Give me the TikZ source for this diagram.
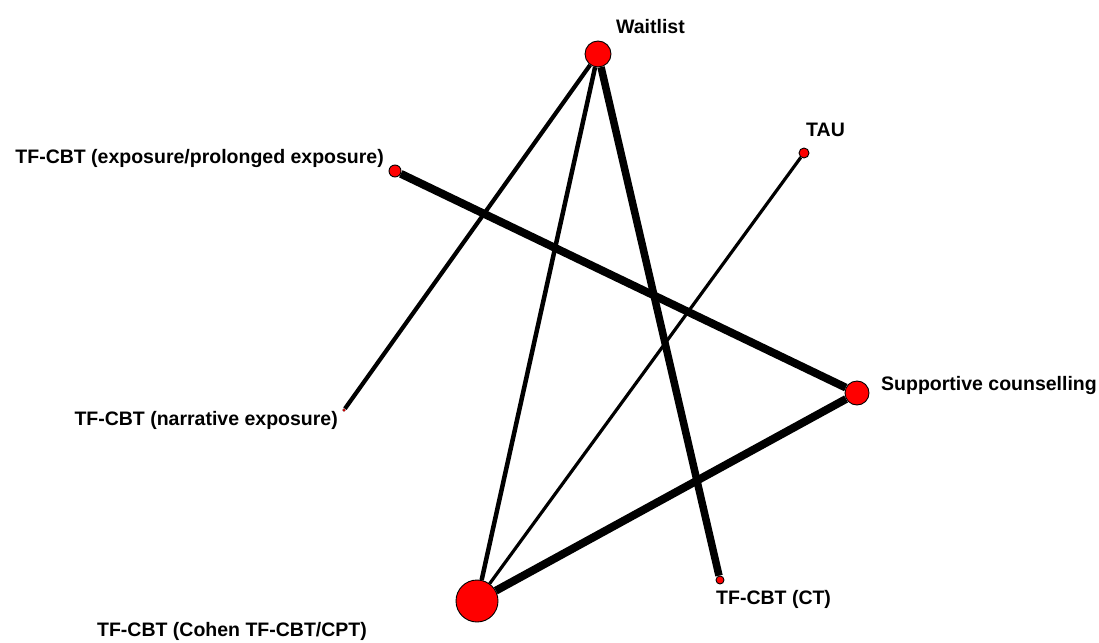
\documentclass[tikz,border=0pt]{standalone}
\usepackage{fontspec}
\setmainfont{Liberation Sans}
\tikzset{
  trt/.style={circle, draw=black, line width=0.9pt, fill=red, inner sep=0pt},
  lbl/.style={font=\bfseries\fontsize{19.5}{22}\selectfont, inner sep=0pt}
}
\begin{document}
\begin{tikzpicture}[x=1pt, y=-1pt]
    \useasboundingbox (0,0) rectangle (1099,642);

    % Tratamentos
    \node[trt, minimum size=26pt] (wl) at (598,54) {};
    \node[trt, minimum size=12pt] (exp) at (395,171) {};
    \node[trt, minimum size=10pt] (tau) at (804,153) {};
    \node[trt, minimum size=24pt] (sup) at (857,393) {};
    \node[trt, minimum size=8pt] (ct) at (720,580) {};
    \node[trt, minimum size=42pt] (coh) at (477,601) {};
    \node[trt, minimum size=3pt, line width=0.3pt] (nar) at (344,410) {};

    % Comparacoes
    \foreach \a/\b/\w in {wl/nar/4.2, wl/coh/4.5, wl/ct/7.5, exp/sup/8, tau/coh/3.2, sup/coh/8} {
        \draw[line width=\w pt] (\a) -- (\b);
    }

    % Rotulos
    \node[lbl, anchor=west] (wlL) at (616,27) {Waitlist};
    \node[lbl, anchor=east] (expL) at (384,158) {TF-CBT (exposure/prolonged exposure)};
    \node[lbl, anchor=west] (tauL) at (806,130) {TAU};
    \node[lbl, anchor=west] (supL) at (881,385) {Supportive counselling};
    \node[lbl, anchor=west] (ctL) at (716,599) {TF-CBT (CT)};
    \node[lbl] (cohL) at (232,631) {TF-CBT (Cohen TF-CBT/CPT)};
    \node[lbl, anchor=east] (narL) at (338,420) {TF-CBT (narrative exposure)};
\end{tikzpicture}
\end{document}
